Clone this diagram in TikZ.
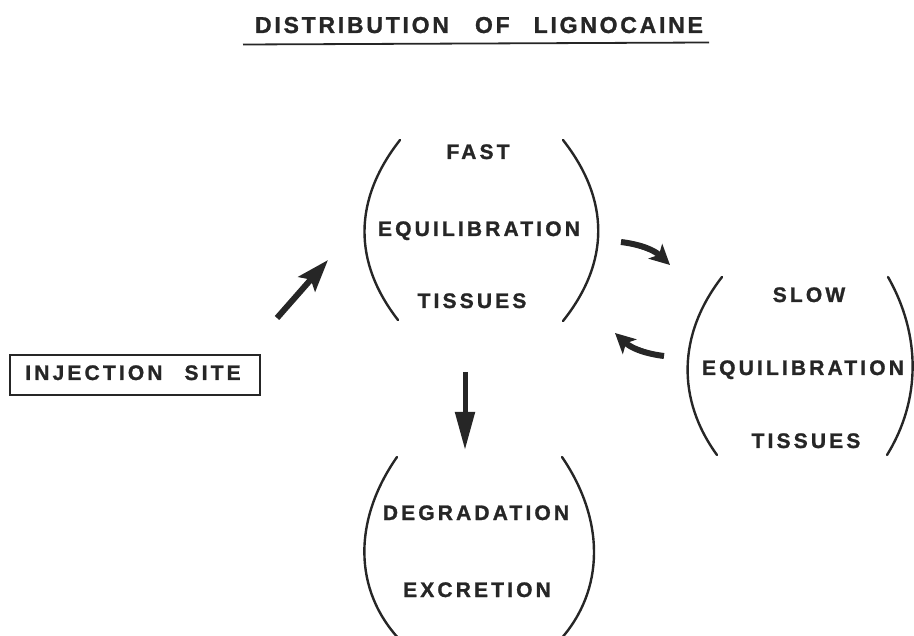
\documentclass[tikz,border=0pt]{standalone}
\usepackage{fontspec}
\setmainfont{Liberation Sans}
\newfontfamily\lblfont{Liberation Sans Bold}[LetterSpace=15, FakeBold=1.2]
\newfontfamily\ttlfont{Liberation Sans Bold}[LetterSpace=12, FakeBold=1.2]
\usetikzlibrary{arrows.meta}
\definecolor{ink}{gray}{0.15}
\begin{document}
\begin{tikzpicture}[x=1pt,y=-1pt,
  lbl/.style={font=\lblfont\fontsize{21}{25}\selectfont, text=ink, inner sep=0pt, anchor=base},
  paren/.style={line width=2.4pt, line cap=round, draw=ink},
  fat/.style={line width=6pt, draw=ink, fill=ink, -{Stealth[length=20pt,width=20pt,inset=5pt]}},
  ]
\useasboundingbox (0,0) rectangle (914,636);
% title
\node[lbl, font=\ttlfont\fontsize{23}{27}\selectfont] (title) at (479,33) {DISTRIBUTION\hspace{26pt}OF\hspace{24pt}LIGNOCAINE};
\draw[line width=1.8pt, draw=ink] (243,44.5) -- (709,42.5);
% fast equilibration
\node[lbl] (fast) at (478,159) {FAST};
\node[lbl] (feq) at (479,236) {EQUILIBRATION};
\node[lbl] (ftis) at (472,308) {TISSUES};
\draw[paren] (400,140) .. controls (353,200) and (353,262) .. (398,320);
\draw[paren] (563,140) .. controls (610,200) and (610,262) .. (563,321);
% slow equilibration
\node[lbl] (slow) at (809,302) {SLOW};
\node[lbl] (seq) at (803,375) {EQUILIBRATION};
\node[lbl] (stis) at (806,448) {TISSUES};
\draw[paren] (722,277) .. controls (677,335) and (677,400) .. (717,455);
\draw[paren] (888,277) .. controls (921,335) and (921,400) .. (887,455);
% degradation
\node[lbl] (deg) at (476,520) {DEGRADATION};
\node[lbl] (exc) at (477,597) {EXCRETION};
\draw[paren] (397,457) .. controls (353,520) and (353,590) .. (400,640);
\draw[paren] (562,457) .. controls (605,520) and (605,590) .. (560,640);
% injection site
\draw[line width=1.6pt, draw=ink] (10,355) rectangle (260,395);
\node[lbl] (inj) at (133,380) {INJECTION\hspace{22pt}SITE};
% arrows
\coordinate (a1s) at (277,318);
\coordinate (a1e) at (328,260);
\draw[fat, -{Stealth[length=32pt,width=22pt,inset=6pt]}] (a1s) -- (a1e);
\coordinate (a2s) at (621,242);
\coordinate (a2e) at (670,265);
\draw[fat] (a2s) to[bend left=18] (a2e);
\coordinate (a3s) at (664,356);
\coordinate (a3e) at (615,333);
\draw[fat] (a3s) to[bend left=18] (a3e);
\coordinate (a4s) at (465,372);
\coordinate (a4e) at (465,450);
\draw[fat, line width=5pt, -{Triangle[length=38pt,width=19pt]}] (a4s) -- (a4e);
\end{tikzpicture}
\end{document}
